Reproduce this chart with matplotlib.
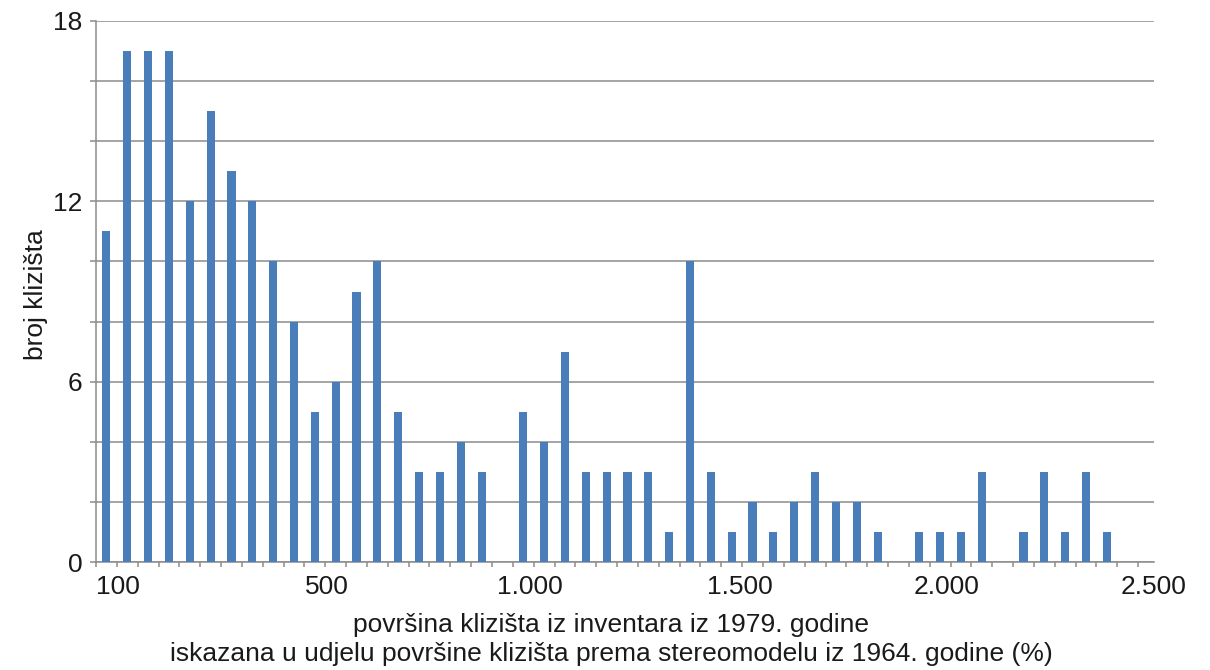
import matplotlib
matplotlib.use("Agg")
import matplotlib.pyplot as plt
import numpy as np

plt.rcParams['font.family'] = ['Liberation Sans', 'DejaVu Sans']

# broj klizista po razredu (50 razreda)
counts = [11, 17, 17, 17, 12, 15, 13, 12, 10, 8,
          5, 6, 9, 10, 5, 3, 3, 4, 3, 0,
          5, 4, 7, 3, 3, 3, 3, 1, 10, 3,
          1, 2, 1, 2, 3, 2, 2, 1, 0, 1,
          1, 1, 3, 0, 1, 3, 1, 3, 1, 0]
tick_labels = ['100', '500', '1.000', '1.500', '2.000', '2.500']
tick_slots = [0.54, 10.56, 20.34, 30.4, 40.33, 50.26]
y_ticks = list(range(0, 19, 2))

bar_color = '#4a7ebb'
grid_color = '#8c8c8c'
text_color = '#1a1a1a'

W, H = 1210, 670
fig = plt.figure(figsize=(W / 100, H / 100), dpi=100)
ax = fig.add_axes([96 / W, 1 - 562 / H, 1058 / W, 541 / H])

x = np.arange(len(counts))
ax.bar(x, counts, width=0.39, color=bar_color, zorder=3)

ax.set_xlim(-0.5, len(counts) - 0.5)
ax.set_ylim(0, 18)

# gridlines every 2, labels every 6
ax.set_yticks(y_ticks)
ax.set_yticklabels([str(v) if v % 6 == 0 else '' for v in y_ticks])
ax.yaxis.grid(True, color=grid_color, linewidth=1.1, zorder=0)
ax.tick_params(axis='y', length=4.3, width=1.1, color=grid_color, pad=5.5,
               labelsize=19, labelcolor=text_color)

# x: ticks on category boundaries, labels placed separately
ax.set_xticks(np.arange(len(counts) + 1) - 0.5)
ax.set_xticklabels([])
ax.set_xticks(tick_slots, tick_labels, minor=True)
ax.tick_params(axis='x', which='major', length=3.6, width=1.1, color=grid_color, direction='out')
ax.tick_params(axis='x', which='minor', length=0, pad=9.5, labelsize=19, labelcolor=text_color)

for s in ['top', 'right']:
    ax.spines[s].set_visible(False)
for s in ['left', 'bottom']:
    ax.spines[s].set_color(grid_color)
    ax.spines[s].set_linewidth(1.1)

fig.text(43 / W, 1 - 295 / H, 'broj klizišta', rotation=90, rotation_mode='anchor',
         ha='center', va='baseline', fontsize=19, color=text_color)
fig.text(611 / W, 1 - 632 / H, 'površina klizišta iz inventara iz 1979. godine',
         ha='center', va='baseline', fontsize=19, color=text_color)
fig.text(611 / W, 1 - 660.5 / H,
         'iskazana u udjelu površine klizišta prema stereomodelu iz 1964. godine (%)',
         ha='center', va='baseline', fontsize=19, color=text_color)

fig.savefig('out.png', dpi=100)
